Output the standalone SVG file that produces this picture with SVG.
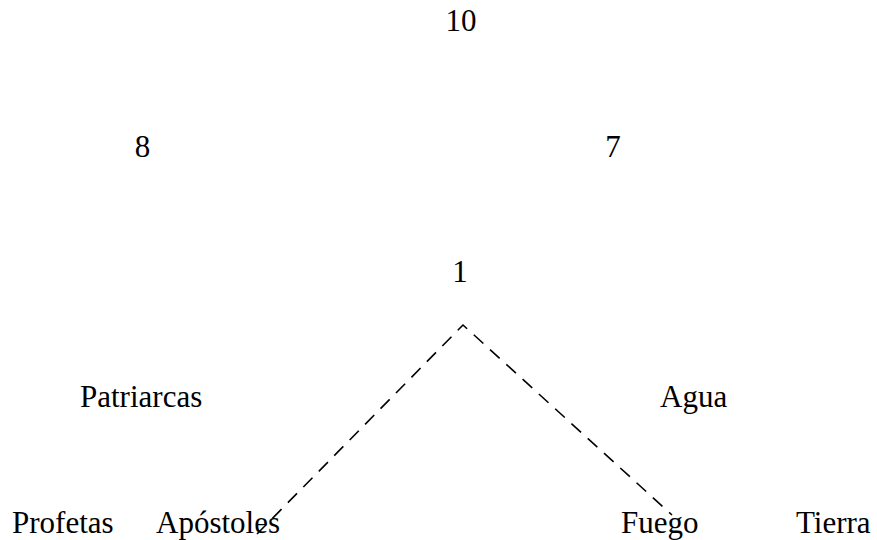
<svg xmlns="http://www.w3.org/2000/svg" width="877" height="540" viewBox="0 0 877 540">
<style>
text{font-family:"Liberation Serif","Times New Roman",serif;font-size:31px;fill:#000}
.c{text-anchor:middle}
.e{fill:none;stroke:#000;stroke-width:1.6;stroke-dasharray:13 9}
</style>
<rect width="877" height="540" fill="#fff"/>
<g id="connectors">
<path class="e" d="M257 534 L463 325 L672 515"/>
</g>
<g id="n10"><text class="c" x="461" y="31">10</text></g>
<g id="n8"><text class="c" x="142.5" y="157">8</text></g>
<g id="n7"><text class="c" x="613" y="157">7</text></g>
<g id="n1"><text class="c" x="460" y="282">1</text></g>
<g id="patriarcas"><text x="80" y="407">Patriarcas</text></g>
<g id="agua"><text x="660" y="407">Agua</text></g>
<g id="profetas"><text x="12" y="533">Profetas</text></g>
<g id="apostoles"><text x="156" y="533">Apóstoles</text></g>
<g id="fuego"><text x="621" y="533">Fuego</text></g>
<g id="tierra"><text x="796" y="533">Tierra</text></g>
</svg>
